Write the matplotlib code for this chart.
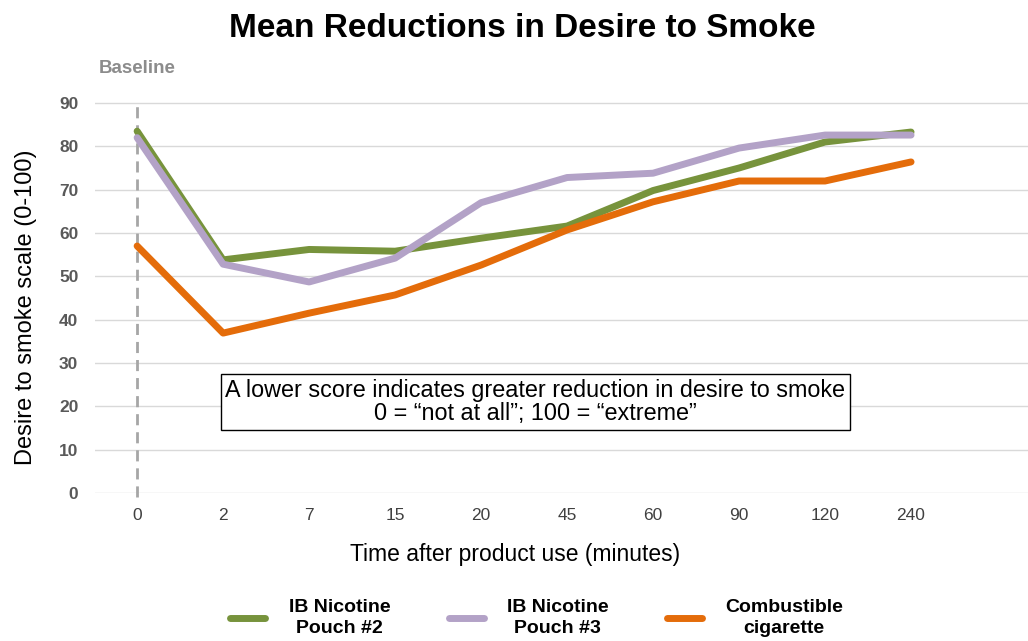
import numpy as np
import matplotlib.pyplot as plt

plt.rcParams['font.family'] = ['Liberation Sans', 'DejaVu Sans']

# data
times = ['0', '2', '7', '15', '20', '45', '60', '90', '120', '240']
pouch2 = [83.5, 53.8, 56.2, 55.8, 58.8, 61.6, 69.8, 75.0, 81.0, 83.3]
pouch3 = [82.0, 52.8, 48.7, 54.2, 67.0, 72.8, 73.8, 79.6, 82.6, 82.6]
cigarette = [57.0, 36.9, 41.5, 45.7, 52.6, 60.7, 67.2, 72.0, 72.0, 76.4]
yticks = [0, 10, 20, 30, 40, 50, 60, 70, 80, 90]

x = np.arange(len(times))

fig = plt.figure(figsize=(10.28, 6.41), dpi=100)
ax = fig.add_axes([0.0924, 0.2309, 0.9076, 0.6287])

ax.plot(x, pouch2, color='#77933C', lw=5, solid_capstyle='round', label='IB Nicotine\nPouch #2', zorder=3)
ax.plot(x, pouch3, color='#B3A2C7', lw=5, solid_capstyle='round', label='IB Nicotine\nPouch #3', zorder=4)
ax.plot(x, cigarette, color='#E46C0A', lw=5, solid_capstyle='round', label='Combustible\ncigarette', zorder=5)

ax.axvline(0, ymin=-0.01, ymax=0.97, color='#A6A6A6', lw=2, ls=(0, (4, 2.5)), zorder=2, clip_on=False)
ax.text(0, 98, 'Baseline', ha='center', va='center', fontsize=13.5, fontweight='bold', color='#8C8C8C')

ax.set_xlim(-0.49, 10.36)
ax.set_ylim(0, 93)
ax.set_yticks(yticks)
ax.set_xticks(x)
ax.set_xticklabels(times)
ax.grid(axis='y', color='#D9D9D9', lw=1)
ax.set_axisbelow(True)
for s in ax.spines.values():
    s.set_visible(False)
ax.tick_params(length=0)
ax.tick_params(axis='y', labelsize=12.5, labelcolor='#595959', pad=12)
ax.tick_params(axis='x', labelsize=12.5, labelcolor='#404040', pad=11)
for t in ax.get_yticklabels():
    t.set_fontweight('bold')

ax.set_xlabel('Time after product use (minutes)', fontsize=16.5)
ax.xaxis.set_label_coords(0.45, -0.125)
ax.set_ylabel('Desire to smoke scale (0-100)', fontsize=17)
ax.yaxis.set_label_coords(-0.062, 0.46)
fig.text(0.5085, 0.955, 'Mean Reductions in Desire to Smoke', ha='center', va='center',
         fontsize=24, fontweight='bold')

ax.text(4.63, 21, 'A lower score indicates greater reduction in desire to smoke\n0 = \u201cnot at all\u201d; 100 = \u201cextreme\u201d',
        ha='center', va='center', fontsize=16.8, linespacing=1.05,
        bbox=dict(boxstyle='square,pad=0.2', fc='white', ec='black', lw=1))

leg = fig.legend(loc='center', bbox_to_anchor=(0.522, 0.036), ncol=3, frameon=False,
                 fontsize=14, handlelength=1.8, columnspacing=3.0, handletextpad=1.2,
                 labelspacing=0.2)
for t in leg.get_texts():
    t.set_fontweight('bold')
    t.set_multialignment('center')
    t.set_linespacing(1.35)

fig.savefig('out.png', dpi=100)
